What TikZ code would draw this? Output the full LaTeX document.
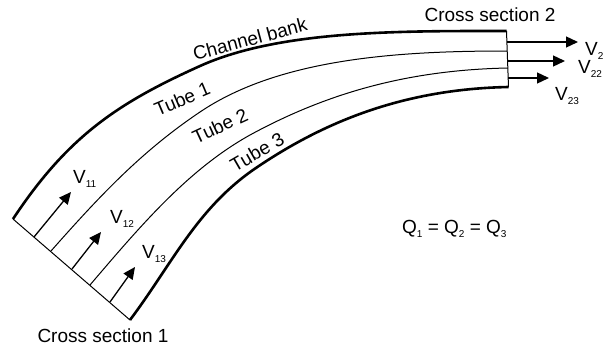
\documentclass[tikz,border=0pt]{standalone}
\usepackage{fontspec}
\setmainfont{Liberation Sans}
\usetikzlibrary{arrows.meta}
\newcommand{\sbs}[1]{\raisebox{-4pt}{\fontsize{10}{10}\selectfont #1}}
\begin{document}
\begin{tikzpicture}[x=1pt,y=-1pt,
  bank/.style={line width=2.6pt},
  tubeline/.style={line width=1pt},
  flow/.style={line width=1.3pt, -{Triangle[length=12pt,width=11pt]}},
  lbl/.style={font=\fontsize{19}{20}\selectfont, inner sep=0pt},
  ]
\useasboundingbox (0,0) rectangle (603,348);
% corner points
\coordinate (TL) at (13,219);
\coordinate (BL) at (130,320);
\coordinate (TR) at (506.5,31);
\coordinate (BR) at (508.5,87);
% channel banks
\draw[bank] (TL) .. controls (68,136) and (118,103) .. (200,66)
  .. controls (280,30) and (400,31) .. (TR);
\draw[bank] (BL) .. controls (172,264) and (196,210) .. (253,170)
  .. controls (327,119) and (408,89) .. (BR);
% tube dividers
\coordinate (D1L) at (51,251);  \coordinate (D1R) at (507,51);
\coordinate (D2L) at (90,285);  \coordinate (D2R) at (507.8,68);
\draw[tubeline] (D1L) .. controls (100.5,195) and (142,151) .. (200,112)
  .. controls (280,58) and (400,51) .. (D1R);
\draw[tubeline] (D2L) .. controls (142,224) and (189,169) .. (250,135)
  .. controls (329,92) and (410,70) .. (D2R);
% cross sections
\draw[tubeline] (TL) -- (BL);
\draw[tubeline] (TR) -- (BR);
% inflow arrows
\coordinate (s11) at (34,237); \coordinate (e11) at (71,192);
\coordinate (s12) at (72,269); \coordinate (e12) at (101,232);
\coordinate (s13) at (110,302); \coordinate (e13) at (135,267);
\draw[flow] (s11) -- (e11);
\draw[flow] (s12) -- (e12);
\draw[flow] (s13) -- (e13);
% outflow arrows
\coordinate (s2) at (507,42); \coordinate (e2) at (578,42);
\coordinate (s22) at (507.5,61); \coordinate (e22) at (565,61);
\coordinate (s23) at (508,78); \coordinate (e23) at (549,78);
\draw[flow] (s2) -- (e2);
\draw[flow] (s22) -- (e22);
\draw[flow] (s23) -- (e23);
% labels
\node[lbl] (cs1) at (103,336) {Cross section 1};
\node[lbl] (cs2) at (490,15) {Cross section 2};
\node[lbl, rotate=15] (cb) at (250,39) {Channel bank};
\node[lbl, rotate=23] (t1) at (182,99) {Tube 1};
\node[lbl, rotate=25] (t2) at (220,126) {Tube 2};
\node[lbl, rotate=30] (t3) at (257,152) {Tube 3};
\node[lbl, anchor=base west] (v11) at (73,183) {V\sbs{11}};
\node[lbl, anchor=base west] (v12) at (110,223) {V\sbs{12}};
\node[lbl, anchor=base west] (v13) at (142,258) {V\sbs{13}};
\node[lbl, anchor=base west] (v2) at (585,55) {V\sbs{2}};
\node[lbl, anchor=base west] (v22) at (578,73) {V\sbs{22}};
\node[lbl, anchor=base west] (v23) at (555,100) {V\sbs{23}};
\node[lbl, anchor=base west] (q) at (402,233) {Q\sbs{1} = Q\sbs{2} = Q\sbs{3}};
\end{tikzpicture}
\end{document}
